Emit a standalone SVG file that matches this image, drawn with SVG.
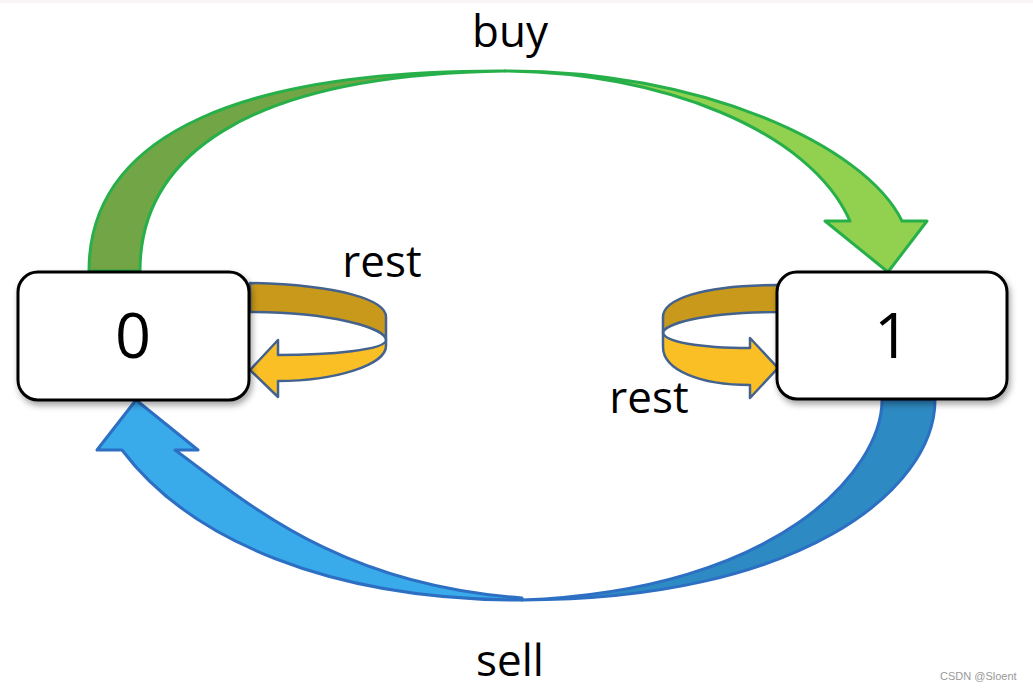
<svg xmlns="http://www.w3.org/2000/svg" width="1033" height="691" viewBox="0 0 1033 691">
  <defs>
    <filter id="shadow" x="-10%" y="-10%" width="125%" height="135%">
      <feDropShadow dx="2" dy="4" stdDeviation="3" flood-color="#000" flood-opacity="0.35"/>
    </filter>
    <style>
      .lbl { font-family: "Open Sans", "Liberation Sans", sans-serif; font-size: 44px; fill: #000; text-anchor: middle; }
      .num { font-family: "Open Sans", "Liberation Sans", sans-serif; font-size: 63px; fill: #000; text-anchor: middle; }
      .box { fill: #fff; stroke: #000; stroke-width: 3; }
      .g { stroke: #27b04a; stroke-width: 3; stroke-linejoin: round; }
      .b { stroke: #2c6fc3; stroke-width: 3; stroke-linejoin: round; }
      .y { stroke: #44628e; stroke-width: 2.5; stroke-linejoin: round; }
      .wm { font-family: "Liberation Sans", Arial, sans-serif; font-size: 11px; fill: #999; }
    </style>
  </defs>
  <rect x="0" y="0" width="1033" height="691" fill="#fff"/>
  <rect x="0" y="0" width="1033" height="3" fill="#f8f5f4"/>

  <g id="connectors">
    <g id="buy-arrow">
      <path class="g" fill="#72a545" d="M89,271 C89,130 250,70 505,71 C240,75 140,160 140,271 Z"/>
      <path class="g" fill="#92d050" d="M505,71 C700,70 865,145 902,221 L927,221 L888,272 L825,221 L850,221 C810,130 660,72 505,71 Z"/>
    </g>
    <g id="sell-arrow">
      <path class="b" fill="#2d8ac2" d="M935,400 C935,490 800,600 522,600 C780,590 882,470 882,400 Z"/>
      <path class="b" fill="#39abeb" d="M522,600 C330,600 190,540 122,450 L97,450 L136,400 L198,450 L175,450 C250,505 340,585 522,598 Z"/>
    </g>
    <g id="rest0-arrow">
      <path class="y" fill="#c8991a" d="M250,283 C340,285 386,300 386,317 L386,340 C386,328 330,312 250,312 Z"/>
      <path class="y" fill="#fbbf26" d="M386,340 C386,350 330,355 278,355 L278,340 L250,370 L278,397 L278,381 C335,381 386,365 386,346 Z"/>
    </g>
    <g id="rest1-arrow">
      <path class="y" fill="#c8991a" d="M778,285 C700,285 663,300 663,317 L663,333 C663,325 700,312 778,312 Z"/>
      <path class="y" fill="#fbbf26" d="M663,332 C663,342 700,348 750,348 L750,338 L778,368 L750,398 L750,385 C700,385 663,370 663,347 Z"/>
    </g>
  </g>

  <text class="lbl" x="510" y="47">buy</text>
  <text class="lbl" x="382" y="277">rest</text>
  <text class="lbl" x="649" y="413">rest</text>
  <text class="lbl" x="510" y="676">sell</text>

  <g id="node0">
    <rect class="box" x="18" y="272" width="231" height="128" rx="20" filter="url(#shadow)"/>
    <text class="num" x="133" y="358">0</text>
  </g>
  <g id="node1">
    <rect class="box" x="777" y="272" width="230" height="127" rx="20" filter="url(#shadow)"/>
    <text class="num" x="892" y="358">1</text>
  </g>

  <text class="wm" x="940" y="680">CSDN @Sloent</text>
</svg>
